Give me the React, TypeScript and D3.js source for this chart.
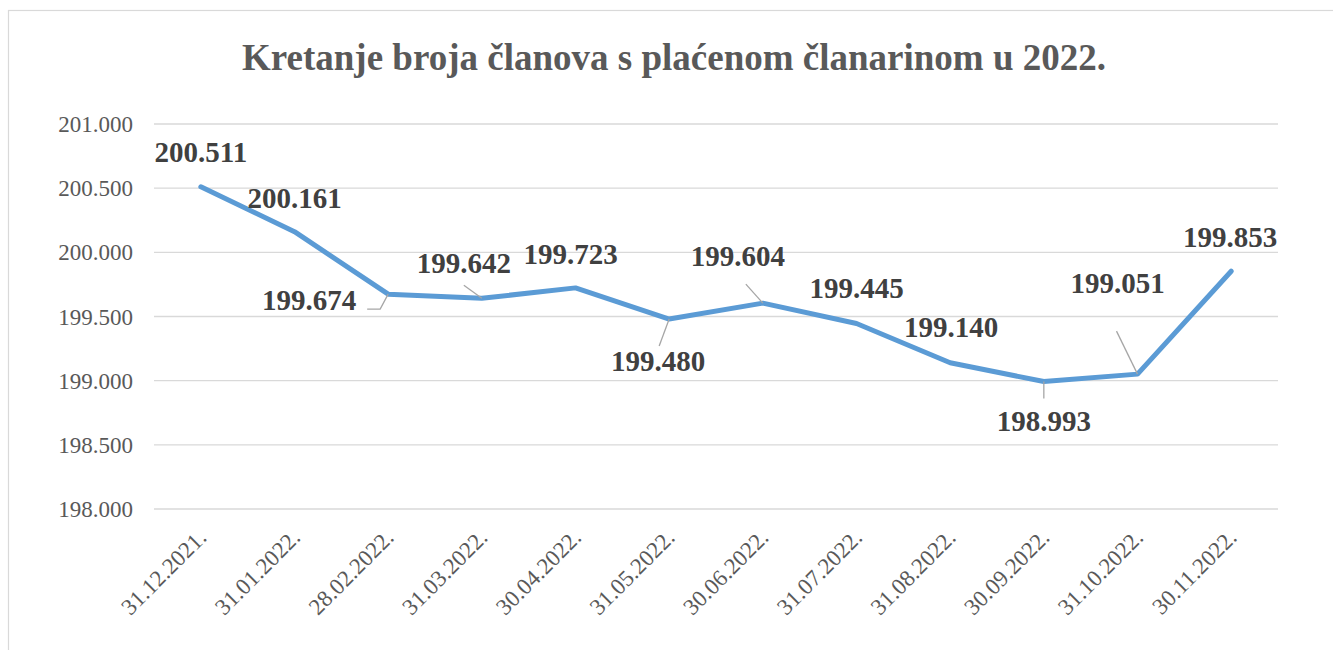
import React from "react";
import * as d3 from "d3";

const dates = [
  "31.12.2021.", "31.01.2022.", "28.02.2022.", "31.03.2022.", "30.04.2022.", "31.05.2022.",
  "30.06.2022.", "31.07.2022.", "31.08.2022.", "30.09.2022.", "31.10.2022.", "30.11.2022.",
];
const members = [200511, 200161, 199674, 199642, 199723, 199480, 199604, 199445, 199140, 198993, 199051, 199853];
const yTicks = [198000, 198500, 199000, 199500, 200000, 200500, 201000];

// label placement per point: text offset (center or end) + optional leader polyline offsets
const labelPos: { dx: number; dy: number; anchor: string; lead?: number[][] }[] = [
  { dx: 0, dy: -25, anchor: "middle" },
  { dx: 0, dy: -24, anchor: "middle" },
  { dx: -32, dy: 16, anchor: "end", lead: [[-21, 15], [-8, 15], [0, 0]] },
  { dx: -18, dy: -25, anchor: "middle", lead: [[-18, -13], [0, 0]] },
  { dx: -5, dy: -24, anchor: "middle" },
  { dx: -11, dy: 52, anchor: "middle", lead: [[0, 0], [-10, 27]] },
  { dx: -25, dy: -37, anchor: "middle", lead: [[-17, -19], [0, 0]] },
  { dx: 0, dy: -26, anchor: "middle" },
  { dx: 1, dy: -26, anchor: "middle" },
  { dx: 0, dy: 49, anchor: "middle", lead: [[0, 0], [0, 17]] },
  { dx: -20, dy: -81, anchor: "middle", lead: [[-21, -43], [0, 0]] },
  { dx: -1, dy: -24, anchor: "middle" },
];

const fmt = (v: number) => d3.format(",.0f")(v).replace(/,/g, ".");

export default function App() {
  const left = 154, right = 1278, top = 124, bottom = 509;
  const x = d3.scalePoint<string>().domain(dates).range([left, right]).padding(0.5);
  const y = d3.scaleLinear().domain([198000, 201000]).range([bottom, top]);
  const line = d3.line<number>().x((_, i) => x(dates[i])!).y((d) => y(d));
  const serif = "'Liberation Serif', 'Times New Roman', serif";

  return (
    <div style={{ position: "fixed", left: 0, top: 0, width: 1333, height: 650, background: "#fff" }}>
      <svg width={1333} height={650} style={{ display: "block" }} fontFamily={serif}>
        <rect x={8.5} y={10.5} width={1340} height={660} fill="#fff" stroke="#d9d9d9" strokeWidth={1.2} />
        <text x={674} y={70} textAnchor="middle" fontSize={37} fontWeight="bold" fill="#595959">
          Kretanje broja članova s plaćenom članarinom u 2022.
        </text>
        {yTicks.map((t) => (
          <g key={t}>
            <line x1={left} x2={right} y1={y(t)} y2={y(t)} stroke="#d9d9d9" strokeWidth={1.3} />
            <text x={133} y={y(t) + 8} textAnchor="end" fontSize={23} fill="#595959">
              {fmt(t)}
            </text>
          </g>
        ))}
        {dates.map((d) => (
          <text
            key={d}
            transform={`translate(${x(d)! + 7},${bottom + 30}) rotate(-45)`}
            textAnchor="end"
            fontSize={23}
            fill="#595959"
          >
            {d}
          </text>
        ))}
        <path d={line(members) ?? ""} fill="none" stroke="#5b9bd5" strokeWidth={5} strokeLinejoin="round" strokeLinecap="round" />
        {members.map((v, i) => {
          const px = x(dates[i])!;
          const py = y(v);
          const p = labelPos[i];
          return (
            <g key={i}>
              {p.lead && (
                <polyline
                  points={p.lead.map(([a, b]) => `${px + a},${py + b}`).join(" ")}
                  fill="none"
                  stroke="#a6a6a6"
                  strokeWidth={1.3}
                />
              )}
              <text x={px + p.dx} y={py + p.dy} textAnchor={p.anchor} fontSize={29} fontWeight="bold" fill="#404040">
                {fmt(v)}
              </text>
            </g>
          );
        })}
      </svg>
    </div>
  );
}
